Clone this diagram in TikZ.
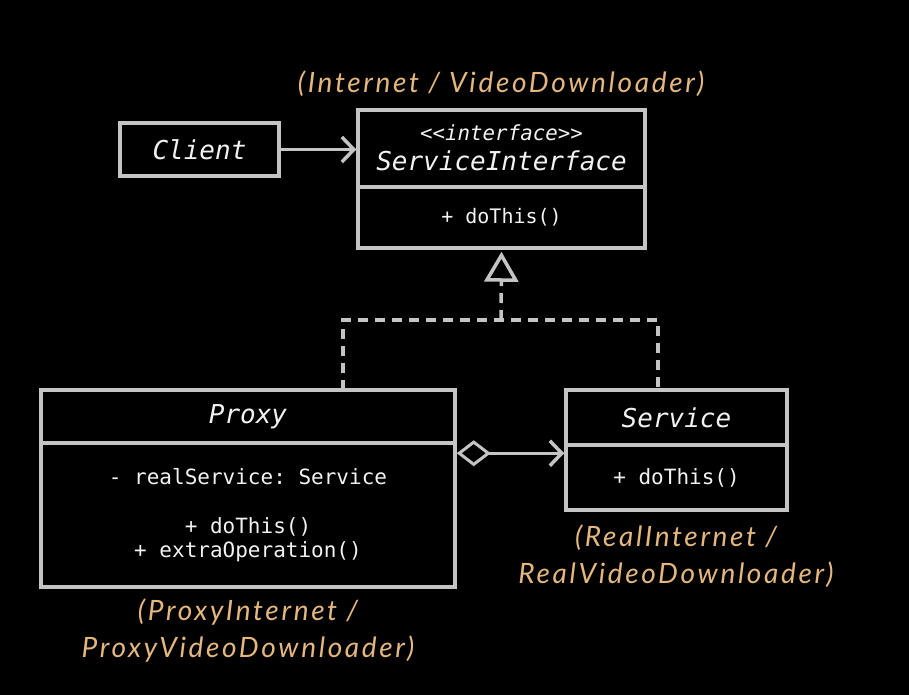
\documentclass[tikz,border=0pt]{standalone}
\usepackage{fontspec}
\setmonofont{DejaVu Sans Mono}
\newfontfamily\lblfont{Lato}[LetterSpace=9.5]
\usetikzlibrary{arrows.meta,calc}
\definecolor{edge}{HTML}{C4C4C4}
\definecolor{tan}{HTML}{E3B77E}
\definecolor{txt}{HTML}{F2F2F2}
\tikzset{
  box/.style={draw=edge, line width=3.5pt, fill=black, text=txt, inner sep=0pt, font=\ttfamily},
  cname/.style={box, font=\ttfamily\itshape\fontsize{26}{30}\selectfont},
  members/.style={box, font=\ttfamily\fontsize{20}{24}\selectfont, align=center},
  pmem/.style={text=txt, font=\ttfamily\fontsize{21}{24.5}\selectfont, align=center, inner sep=0pt},
  conn/.style={draw=edge, line width=3.5pt},
  dashl/.style={conn, dash pattern=on 10pt off 7pt},
  tanlbl/.style={text=tan, font=\lblfont\itshape\fontsize{28}{37}\selectfont, align=center, inner sep=0pt},
  openhead/.style={-{Straight Barb[length=12pt,width=25pt,line width=3.5pt]}}
}
\begin{document}
\begin{tikzpicture}[x=1pt,y=1pt]
\useasboundingbox[fill=black] (0,0) rectangle (909,-695);

% Client
\node[cname, minimum width=159pt, minimum height=53pt] (client) at (199.5,-149.5) {Client};

% ServiceInterface
\node[box, minimum width=287pt, minimum height=77pt] (siTop) at (501.5,-148.5) {};
\node[text=txt, font=\ttfamily\itshape\fontsize{20.8}{24}\selectfont, inner sep=0pt] (siSt) at (501.5,-133) {<<interface>>};
\node[text=txt, font=\ttfamily\itshape\fontsize{26}{30}\selectfont, inner sep=0pt] (siName) at (501.5,-161) {ServiceInterface};
\node[members, minimum width=287pt, minimum height=61pt] (siBot) at (501.5,-217.5) {+ doThis()};

\node[tanlbl] (siLbl) at (501,-84) {(Internet / VideoDownloader)};

% Proxy
\node[cname, minimum width=414pt, minimum height=53pt] (pTop) at (248,-416.5) {Proxy};
\node[box, minimum width=414pt, minimum height=144pt] (pBot) at (248,-515) {};
\node[pmem] (pAttr) at (248,-477) {- realService: Service};
\node[pmem] (pOps) at (248,-539.5) {+ doThis()\\+ extraOperation()};

\node[tanlbl] (pLbl) at (248,-631) {(ProxyInternet /\\ProxyVideoDownloader)};

% Service
\node[cname, minimum width=221pt, minimum height=55pt] (sTop) at (676.5,-417.5) {Service};
\node[box, minimum width=221pt, minimum height=65pt, font=\ttfamily\fontsize{21}{24}\selectfont] (sBot) at (676.5,-477.5) {+ doThis()};

\node[tanlbl] (sLbl) at (676,-556) {(RealInternet /\\RealVideoDownloader)};

% Client -> ServiceInterface
\draw[conn, openhead] (client.east) -- (client.east -| siTop.west);

% realization
\coordinate (j) at (501,-320);
\coordinate (dp) at (343,-390);
\coordinate (ds) at (658,-390);
\draw[dashl] (dp) |- (j) -| (ds);
\draw[dashl, -{Triangle[open,length=30pt,width=34pt,line width=3.5pt,fill=black]}] (j) -- ([yshift=-2pt]siBot.south);

% aggregation
\draw[conn, {Diamond[open,length=34pt,width=26pt,line width=3pt,fill=black]}-{Straight Barb[length=12pt,width=25pt,line width=3.5pt]}]
  ([yshift=-12pt]pBot.north east) -- ([yshift=-10pt]sBot.north west);
\end{tikzpicture}
\end{document}
